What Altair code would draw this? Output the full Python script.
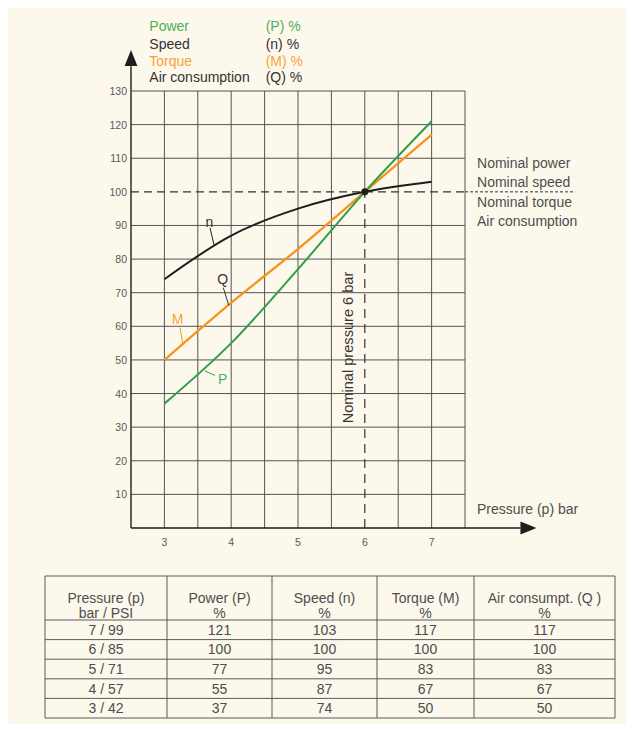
import altair as alt
import pandas as pd

# ---------------- data ----------------
pressure = [3, 4, 5, 6, 7]
psi = [42, 57, 71, 85, 99]
power = [37, 55, 77, 100, 121]
speed = [74, 87, 95, 100, 103]
torque = [50, 67, 83, 100, 117]
air = [50, 67, 83, 100, 117]

x_ticks = [3, 4, 5, 6, 7]
y_ticks = [10, 20, 30, 40, 50, 60, 70, 80, 90, 100, 110, 120, 130]

legend_names = ["Power", "Speed", "Torque", "Air consumption"]
legend_units = ["(P) %", "(n) %", "(M) %", "(Q) %"]
right_labels = ["Nominal power", "Nominal speed", "Nominal torque", "Air consumption"]
table_header = ["Pressure (p)\nbar / PSI", "Power (P)\n%", "Speed (n)\n%",
                "Torque (M)\n%", "Air consumpt. (Q )\n%"]

# ---------------- style ----------------
FONT = "Liberation Sans"
BG = "#fdf8ec"
GRID = "#555555"
TXT = "#4d4d4d"
GREEN = "#2f9e48"
GREEN_T = "#4caf5a"
ORANGE = "#f7941d"
ORANGE_T = "#f8a23a"
BLACK = "#1e1e1e"

# ---------------- layout (main panel) ----------------
PXX, PXY = 66.8, 3.3615        # pixels per bar, pixels per percent
W1, H1 = 618, 554
GX0, GY0 = 123, 520            # panel pixel of (2.5 bar, 0 %)
xmin = 2.5 - GX0 / PXX
xmax = xmin + W1 / PXX
ymax = GY0 / PXY
ymin = ymax - H1 / PXY
xs = alt.Scale(domain=[xmin, xmax], nice=False, zero=False)
ys = alt.Scale(domain=[ymin, ymax], nice=False, zero=False)


def X(f):
    return alt.X(f, type="quantitative", scale=xs, axis=None)


def Y(f):
    return alt.Y(f, type="quantitative", scale=ys, axis=None)


# grid
vgrid = pd.DataFrame({"x": [3.0 + 0.5 * i for i in range(10) if 3.0 + 0.5 * i != 6.0],
                      "y": 0, "y2": 130})
vgrid6 = pd.DataFrame({"x": [6.0], "y": [100], "y2": [130]})
hgrid = pd.DataFrame({"y": [v for v in y_ticks if v != 100], "x": 2.5, "x2": 7.5})

grid_v = alt.Chart(pd.concat([vgrid, vgrid6])).mark_rule(color=GRID, strokeWidth=1).encode(
    x=X("x"), y=Y("y"), y2="y2")
grid_h = alt.Chart(hgrid).mark_rule(color=GRID, strokeWidth=1).encode(
    x=X("x"), x2="x2", y=Y("y"))

axes = alt.Chart(pd.DataFrame({"x": [2.5, 2.5], "x2": [2.5, 8.33],
                               "y": [0, 0], "y2": [137.4, 0]})).mark_rule(
    color=BLACK, strokeWidth=1.4).encode(x=X("x"), x2="x2", y=Y("y"), y2="y2")

arrow_up = alt.Chart(pd.DataFrame({"x": [2.5], "y": [139.8]})).mark_point(
    shape="M0,-1L0.8,1L-0.8,1Z", filled=True, size=256, color=BLACK, opacity=1,
    strokeWidth=0).encode(x=X("x"), y=Y("y"))
arrow_right = alt.Chart(pd.DataFrame({"x": [8.45], "y": [0]})).mark_point(
    shape="M1,0L-1,-0.8L-1,0.8Z", filled=True, size=256, color=BLACK, opacity=1,
    strokeWidth=0).encode(x=X("x"), y=Y("y"))

# dashed nominal lines
dash_h1 = alt.Chart(pd.DataFrame({"x": [2.5], "x2": [7.5], "y": [100]})).mark_rule(
    color="#333333", strokeWidth=1.2, strokeDash=[8, 5]).encode(x=X("x"), x2="x2", y=Y("y"))
dash_h2 = alt.Chart(pd.DataFrame({"x": [7.5], "x2": [9.15], "y": [100]})).mark_rule(
    color="#333333", strokeWidth=1, strokeDash=[3, 2]).encode(x=X("x"), x2="x2", y=Y("y"))
dash_v = alt.Chart(pd.DataFrame({"x": [6], "y": [0], "y2": [100]})).mark_rule(
    color="#333333", strokeWidth=1.2, strokeDash=[9, 6]).encode(x=X("x"), y=Y("y"), y2="y2")

# curves
curves = pd.concat([
    pd.DataFrame({"p": pressure, "v": speed, "s": "n"}),
    pd.DataFrame({"p": pressure, "v": air, "s": "Q"}),
    pd.DataFrame({"p": pressure, "v": torque, "s": "M"}),
    pd.DataFrame({"p": pressure, "v": power, "s": "P"}),
])
cscale = alt.Scale(domain=["n", "Q", "M", "P"], range=[BLACK, ORANGE, ORANGE, GREEN])
lines = alt.Chart(curves).mark_line(interpolate="monotone", strokeWidth=2).encode(
    x=X("p"), y=Y("v"), color=alt.Color("s:N", scale=cscale, legend=None), detail="s:N")

dot = alt.Chart(pd.DataFrame({"x": [6], "y": [100]})).mark_circle(
    size=50, color=BLACK, opacity=1).encode(x=X("x"), y=Y("y"))

# curve labels with leader lines
leaders = pd.DataFrame({
    "s": ["n", "Q", "M", "P"],
    "x": [3.683, 3.882, 3.234, 3.608], "y": [89.3, 71.5, 59.6, 46.7],
    "x2": [3.743, 3.962, 3.274, 3.757], "y2": [84.2, 66.3, 54.9, 45.4],
    "c": [BLACK, "#333333", ORANGE, GREEN],
})
leader_lines = alt.Chart(leaders).mark_rule(strokeWidth=1).encode(
    x=X("x"), x2="x2", y=Y("y"), y2="y2", color=alt.Color("c:N", scale=None))
curve_labels = pd.DataFrame({
    "t": ["n", "Q", "M", "P"],
    "x": [3.672, 3.873, 3.199, 3.873], "y": [90.8, 73.7, 61.8, 43.9],
    "c": ["#333333", "#333333", ORANGE_T, GREEN_T],
})
curve_text = alt.Chart(curve_labels).mark_text(fontSize=14, baseline="middle", align="center").encode(
    x=X("x"), y=Y("y"), text="t:N", color=alt.Color("c:N", scale=None))

# tick labels
ytl = alt.Chart(pd.DataFrame({"v": y_ticks, "x": 2.44})).mark_text(
    fontSize=10.5, align="right", baseline="middle", color="#5a5a5a", dy=1).encode(
    x=X("x"), y=Y("v"), text="v:Q")
xtl = alt.Chart(pd.DataFrame({"v": x_ticks, "y": -4.46})).mark_text(
    fontSize=10.5, align="center", baseline="middle", color="#5a5a5a").encode(
    x=X("v"), y=Y("y"), text="v:Q")

# top legend
leg_y = [148.9, 143.7, 138.6, 133.9]
leg_c = [GREEN_T, "#333333", ORANGE_T, "#333333"]
leg_df = pd.DataFrame({"t": legend_names, "u": legend_units, "y": leg_y, "c": leg_c})
leg1 = alt.Chart(leg_df).mark_text(fontSize=14, align="left", baseline="middle").encode(
    x=X("x"), y=Y("y"), text="t:N", color=alt.Color("c:N", scale=None)).transform_calculate(x="2.774")
leg2 = alt.Chart(leg_df).mark_text(fontSize=14, align="left", baseline="middle").encode(
    x=X("x"), y=Y("y"), text="u:N", color=alt.Color("c:N", scale=None)).transform_calculate(x="4.516")

# right labels
rl_df = pd.DataFrame({"t": right_labels, "y": [108.2, 102.6, 96.8, 91.1], "x": 7.68})
right_text = alt.Chart(rl_df).mark_text(fontSize=14, align="left", baseline="middle", color=TXT).encode(
    x=X("x"), y=Y("y"), text="t:N")

xtitle = alt.Chart(pd.DataFrame({"t": ["Pressure (p) bar"], "x": [7.68], "y": [5.5]})).mark_text(
    fontSize=14, align="left", baseline="middle", color=TXT).encode(x=X("x"), y=Y("y"), text="t:N")

nominal = alt.Chart(pd.DataFrame({"t": ["Nominal pressure 6 bar"], "x": [5.763], "y": [53.7]})).mark_text(
    fontSize=14.6, align="center", baseline="middle", angle=270, color="#333333").encode(
    x=X("x"), y=Y("y"), text="t:N")

main = alt.layer(
    grid_v, grid_h, dash_h1, dash_h2, dash_v, axes, arrow_up, arrow_right,
    lines, dot, leader_lines, curve_text, ytl, xtl, leg1, leg2, right_text, xtitle, nominal
).properties(width=W1, height=H1)

# ---------------- table panel ----------------
W2, H2 = 618, 154
col_edges = [37, 159, 264, 369, 466, 607]
row_edges = [6, 50, 69.6, 89.2, 108.8, 128.4, 148]
txs = alt.Scale(domain=[0, W2], nice=False, zero=False)
tys = alt.Scale(domain=[0, H2], nice=False, zero=False, reverse=True)


def TX(f):
    return alt.X(f, type="quantitative", scale=txs, axis=None)


def TY(f):
    return alt.Y(f, type="quantitative", scale=tys, axis=None)


rows = []
for j, h in enumerate(table_header):
    rows.append({"x": (col_edges[j] + col_edges[j + 1]) / 2,
                 "y": (row_edges[0] + row_edges[1]) / 2, "t": h})
order = list(range(len(pressure)))[::-1]
for r, i in enumerate(order):
    vals = [f"{pressure[i]} / {psi[i]}", str(power[i]), str(speed[i]), str(torque[i]), str(air[i])]
    for j, v in enumerate(vals):
        rows.append({"x": (col_edges[j] + col_edges[j + 1]) / 2,
                     "y": (row_edges[r + 1] + row_edges[r + 2]) / 2, "t": v})
cells = pd.DataFrame(rows)

t_text = alt.Chart(cells).mark_text(fontSize=14, lineBreak="\n", lineHeight=15,
                                    align="center", baseline="middle", color=TXT, dy=1).encode(
    x=TX("x"), y=TY("y"), text="t:N")
t_h = alt.Chart(pd.DataFrame({"y": row_edges, "x": col_edges[0], "x2": col_edges[-1]})).mark_rule(
    color="#5a5a5a", strokeWidth=1).encode(x=TX("x"), x2="x2", y=TY("y"))
t_v = alt.Chart(pd.DataFrame({"x": col_edges, "y": row_edges[0], "y2": row_edges[-1]})).mark_rule(
    color="#5a5a5a", strokeWidth=1).encode(x=TX("x"), y=TY("y"), y2="y2")

table = alt.layer(t_h, t_v, t_text).properties(width=W2, height=H2)

chart = alt.vconcat(main, table, spacing=8).properties(
    padding=0, background=BG
).configure_view(strokeWidth=0).configure_text(font=FONT)

chart.save("out.html", embed_options={"renderer": "svg", "actions": False})
